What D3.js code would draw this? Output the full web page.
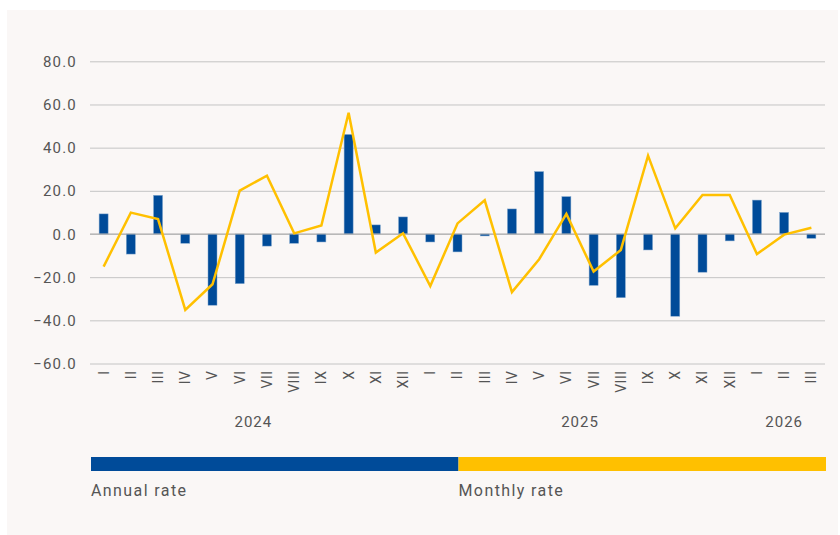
<!DOCTYPE html>
<html>
<head>
<meta charset="utf-8">
<script src="https://cdn.jsdelivr.net/npm/d3@7"></script>
<style>
  body { margin: 0; background: #fff; }
  text { font-family: Roboto, "Noto Sans", sans-serif; fill: #555; }
</style>
</head>
<body>
<svg id="chart" width="840" height="535"></svg>
<script>
// months, grouped per year
var months = ["I","II","III","IV","V","VI","VII","VIII","IX","X","XI","XII",
              "I","II","III","IV","V","VI","VII","VIII","IX","X","XI","XII",
              "I","II","III"];
var years = ["2024","2025","2026"];
var yearStart = [0, 12, 24];
var yearCount = [12, 12, 3];

var annualRate = [9.3, -9.3, 17.9, -4.3, -33.0, -23.0, -5.6, -4.3, -3.7, 46.1, 4.2, 7.9,
                  -3.7, -8.3, -0.9, 11.6, 28.9, 17.3, -23.8, -29.5, -7.4, -38.1, -17.7, -3.2,
                  15.7, 10.0, -2.0];
var monthlyRate = [-15.1, 9.9, 6.9, -35.2, -23.3, 20.1, 27.0, 0.3, 3.9, 56.2, -8.6, 0.3,
                   -24.1, 4.9, 15.6, -26.9, -11.7, 9.3, -17.4, -7.4, 36.3, 2.6, 18.1, 18.1,
                   -9.3, -0.3, 2.9];
var yTicks = [-60, -40, -20, 0, 20, 40, 60, 80];
var seriesNames = ["Annual rate", "Monthly rate"];
var blue = "#004b99", yellow = "#ffc000";

var svg = d3.select("#chart");

svg.append("rect")
  .attr("x", 7).attr("y", 10).attr("width", 831).attr("height", 525)
  .attr("fill", "#faf7f6");

var x = d3.scaleBand().domain(d3.range(months.length)).range([90, 825]);
var y = d3.scaleLinear().domain([-60, 80]).range([363.5, 61.3]);

// grid + y labels
var yAxis = svg.append("g").attr("transform", "translate(90,0)")
  .call(d3.axisLeft(y).tickValues(yTicks).tickSize(-735).tickFormat(d3.format(".1f")));
yAxis.select(".domain").remove();
yAxis.selectAll(".tick line").attr("stroke", "#c4c4c4");
yAxis.selectAll(".tick text")
  .attr("x", -13).attr("dy", "0.34em")
  .style("font-size", "15px").style("letter-spacing", "1.2px")
  .style("font-family", "Roboto, sans-serif").attr("fill", "#555");

// bars
svg.append("g").selectAll("rect").data(annualRate).join("rect")
  .attr("x", function(d, i) { return x(i) + x.bandwidth() / 2 - 4.5; })
  .attr("width", 9)
  .attr("y", function(d) { return y(Math.max(0, d)); })
  .attr("height", function(d) { return Math.abs(y(d) - y(0)); })
  .attr("fill", blue)
  .attr("stroke", "#7fa5cc").attr("stroke-width", 0.5);

// zero line on top of bars
svg.append("line")
  .attr("x1", 90).attr("x2", 825).attr("y1", y(0)).attr("y2", y(0))
  .attr("stroke", "#aaa");

// monthly line
var line = d3.line()
  .x(function(d, i) { return x(i) + x.bandwidth() / 2; })
  .y(function(d) { return y(d); });
svg.append("path").datum(monthlyRate)
  .attr("d", line).attr("fill", "none")
  .attr("stroke", yellow).attr("stroke-width", 2.5)
  .attr("stroke-linejoin", "miter");

// month labels (rotated)
var xAxis = svg.append("g").attr("transform", "translate(0,363.5)")
  .call(d3.axisBottom(x).tickSize(0).tickFormat(function(i) { return months[i]; }));
xAxis.select(".domain").remove();
xAxis.selectAll(".tick text")
  .attr("transform", "rotate(-90)")
  .attr("x", -7).attr("y", 0).attr("dy", "0.35em")
  .style("text-anchor", "end")
  .style("font-size", "14px").style("letter-spacing", "0.5px")
  .style("font-family", "Roboto, sans-serif").attr("fill", "#555");

// year labels
svg.append("g").selectAll("text").data(years).join("text")
  .attr("x", function(d, k) {
    var a = x(yearStart[k]), b = x(yearStart[k] + yearCount[k] - 1) + x.bandwidth();
    return (a + b) / 2;
  })
  .attr("y", 427)
  .attr("text-anchor", "middle")
  .style("font-size", "15px").style("letter-spacing", "1px")
  .text(function(d) { return d; });

// legend
var legX = d3.scaleBand().domain(seriesNames).range([91, 826]);
var leg = svg.append("g").selectAll("g").data(seriesNames).join("g")
  .attr("transform", function(d) { return "translate(" + legX(d) + ",0)"; });
leg.append("rect")
  .attr("y", 457).attr("height", 14).attr("width", legX.bandwidth())
  .attr("fill", function(d, i) { return i === 0 ? blue : yellow; });
leg.append("text")
  .attr("y", 496)
  .style("font-size", "16px").style("letter-spacing", "1.4px")
  .text(function(d) { return d; });
</script>
</body>
</html>
